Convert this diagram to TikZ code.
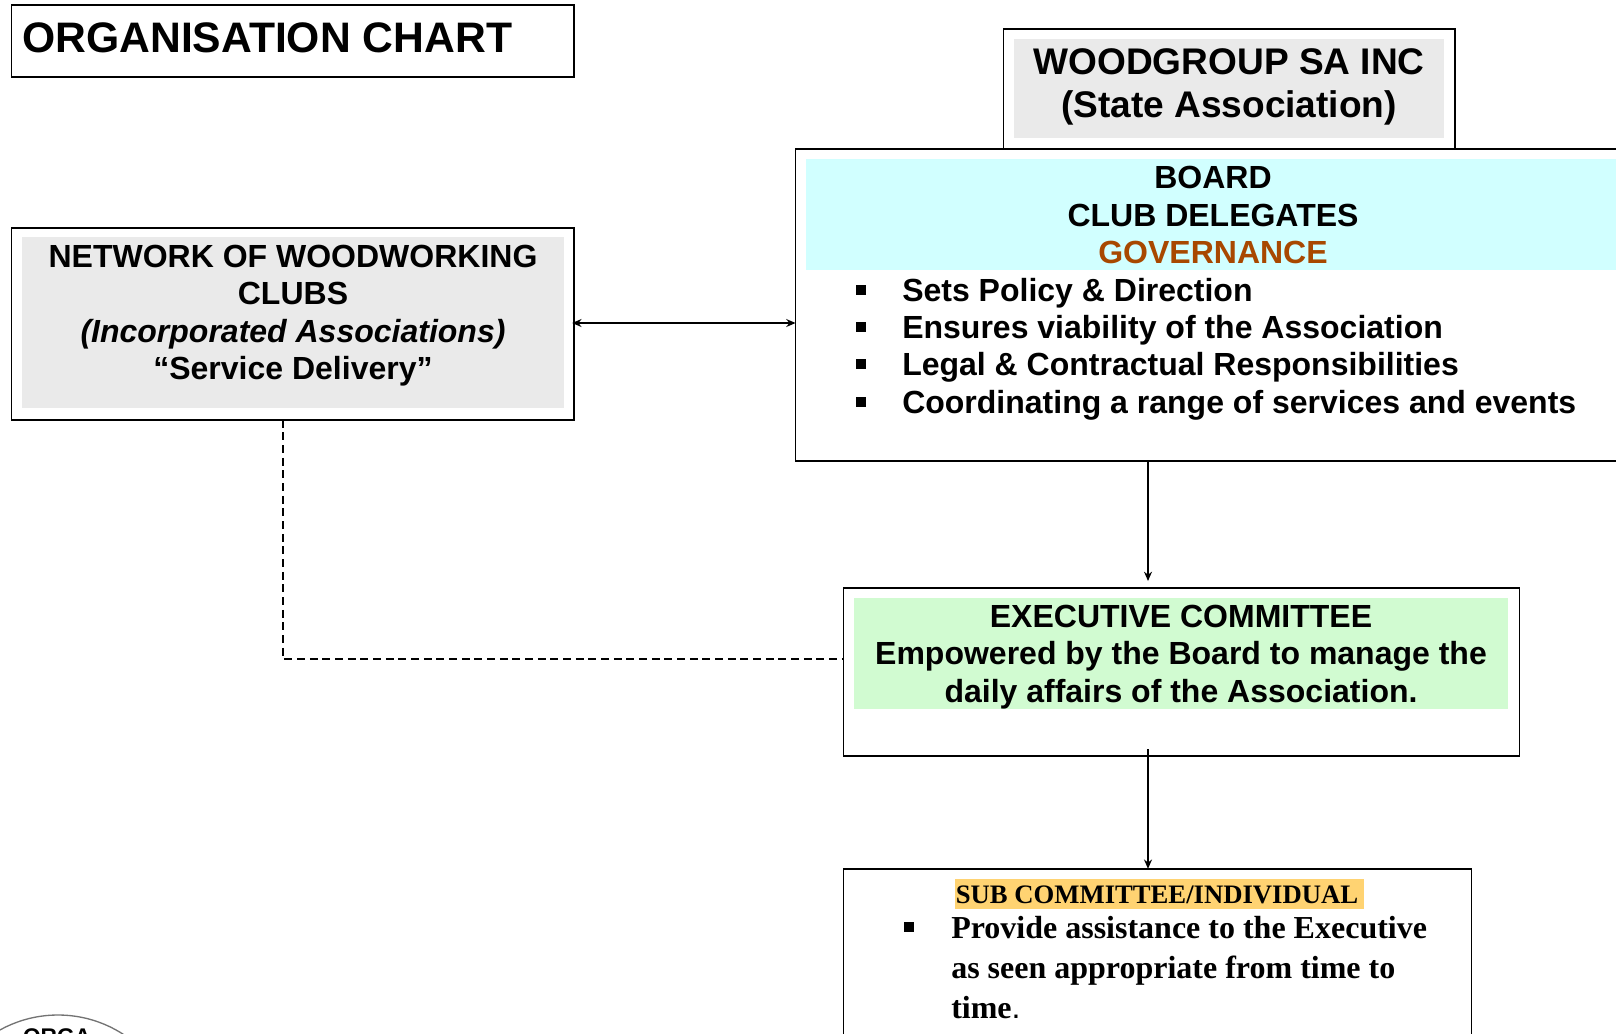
\documentclass[tikz,border=0pt]{standalone}
\usepackage{fontspec}
\setmainfont{Liberation Sans}
\newfontfamily\timesbold{Liberation Serif}[BoldFont={Liberation Serif Bold}]
\usetikzlibrary{arrows.meta}
\definecolor{panelgray}{HTML}{EAEAEA}
\definecolor{panelcyan}{HTML}{D1FFFF}
\definecolor{panelgreen}{HTML}{D1FBD1}
\definecolor{panelorange}{HTML}{FFD372}
\definecolor{govbrown}{HTML}{A84800}
\tikzset{
  x=0.75pt,y=-0.75pt,
  framebox/.style={draw=black,line width=1.3pt,fill=white,outer sep=0pt,inner sep=0pt,anchor=north west,xshift=0.4pt,yshift=-0.6pt},
  sanslabel/.style={font=\fontsize{24}{28}\selectfont\bfseries,inner sep=0pt,anchor=base,align=center},
  woodlabel/.style={font=\fontsize{27.8}{33}\selectfont\bfseries,inner sep=0pt,anchor=base},
  titlelabel/.style={font=\fontsize{32}{38}\selectfont\bfseries,inner sep=0pt,anchor=base west},
  bulletline/.style={font=\fontsize{24}{28}\selectfont\bfseries,inner sep=0pt,anchor=base west},
  bulletmark/.style={fill=black,minimum size=7pt,inner sep=0pt,draw=none},
  seriflabel/.style={font=\timesbold\fontsize{24}{28}\selectfont\bfseries,inner sep=0pt,anchor=base west},
  subhead/.style={font=\timesbold\fontsize{20}{24}\selectfont\bfseries,inner sep=0pt,anchor=base},
  conn/.style={line width=1pt,draw=black},
  tip/.style={-{Stealth[length=7pt,width=6pt]}},
}
\begin{document}
\begin{tikzpicture}
\useasboundingbox (0,1) rectangle (1616,1034);
\clip (0,1) rectangle (1616,1034);
% logo remnant
\draw[line width=1pt,draw=black!55] (58,1136) circle [radius=120];
\node[font=\fontsize{17}{20}\selectfont\bfseries,inner sep=0pt,anchor=base] (logotext) at (57,1045) {ORGA};
% title
\node[framebox,minimum width=422pt,minimum height=54pt] (titlebox) at (11,5) {};
\node[titlelabel] (titletext) at (22,53) {ORGANISATION CHART};
% woodgroup
\node[framebox,minimum width=338.5pt,minimum height=90pt] (woodbox) at (1003,29) {};
\fill[panelgray] (1014,40) rectangle (1444,139);
\node[woodlabel] (woodone) at (1229,75) {WOODGROUP SA INC};
\node[woodlabel] (woodtwo) at (1229,118) {(State Association)};
% board
\node[framebox,minimum width=700pt,minimum height=234pt] (boardbox) at (795,149) {};
\fill[panelcyan] (806,160) rectangle (1630,271);
\node[sanslabel] (boardone) at (1213,189) {BOARD};
\node[sanslabel] (boardtwo) at (1213,227) {CLUB DELEGATES};
\node[sanslabel,text=govbrown] (boardthree) at (1213,264) {GOVERNANCE};
\node[bulletmark] (ba) at (861,291) {};
\node[bulletmark] (bb) at (861,328) {};
\node[bulletmark] (bc) at (861,365) {};
\node[bulletmark] (bd) at (861,403) {};
\node[bulletline] (la) at (902,302) {Sets Policy \& Direction};
\node[bulletline] (lb) at (902,339) {Ensures viability of the Association};
\node[bulletline] (lc) at (902,376) {Legal \& Contractual Responsibilities};
\node[bulletline] (ld) at (902,414) {Coordinating a range of services and events};
% network
\node[framebox,minimum width=422pt,minimum height=144pt] (netbox) at (11,228) {};
\fill[panelgray] (22,238) rectangle (564,409);
\node[sanslabel] (netone) at (293,268) {NETWORK OF WOODWORKING};
\node[sanslabel] (nettwo) at (293,305) {CLUBS};
\node[sanslabel] (netthree) at (293,343) {\itshape (Incorporated Associations)};
\node[sanslabel] (netfour) at (293,380) {“Service Delivery”};
% executive
\node[framebox,minimum width=507pt,minimum height=126pt] (execbox) at (843,588) {};
\fill[panelgreen] (854,599) rectangle (1508,710);
\node[sanslabel] (execone) at (1181,628) {EXECUTIVE COMMITTEE};
\node[sanslabel] (exectwo) at (1181,665) {Empowered by the Board to manage the};
\node[sanslabel] (execthree) at (1181,703) {daily affairs of the Association.};
% sub committee
\node[framebox,minimum width=471pt,minimum height=150pt] (subbox) at (843,869) {};
\fill[panelorange] (955,880) rectangle (1364,910);
\node[subhead] (subone) at (1157,904) {SUB COMMITTEE/INDIVIDUAL};
\node[bulletmark] (bs) at (909,928) {};
\node[seriflabel] (sa) at (951,939) {Provide assistance to the Executive};
\node[seriflabel] (sb) at (951,979) {as seen appropriate from time to};
\node[seriflabel] (sc) at (951,1019) {time{\normalfont .}};
% connectors
\draw[conn,{Stealth[length=7pt,width=6pt]}-{Stealth[length=7pt,width=6pt]},shorten <=-1.5pt] (netbox.east |- 0,324) -- (boardbox.west |- 0,324);
\coordinate (dashturn) at (283,660);
\draw[conn,dashed,dash pattern=on 6pt off 3.5pt] (netbox.south -| dashturn) -- (dashturn) -- (execbox.west |- dashturn);
\coordinate (boardtoexec) at (1148,582);
\draw[conn,tip] (boardbox.south -| boardtoexec) -- (boardtoexec);
\coordinate (execout) at (1148,750);
\draw[conn,tip] (execout) -- (subbox.north -| execout);
\end{tikzpicture}
\end{document}
